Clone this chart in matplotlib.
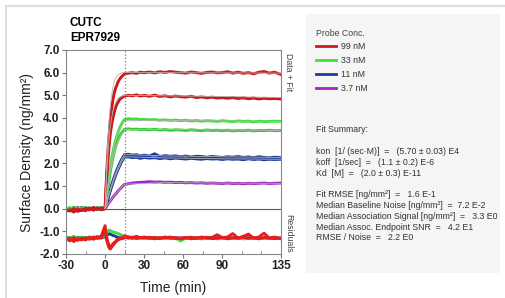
import matplotlib
matplotlib.use("Agg")
import matplotlib.pyplot as plt
from matplotlib.patches import Rectangle
from matplotlib.lines import Line2D
from matplotlib.ticker import MultipleLocator

plt.rcParams['font.family'] = ['Liberation Sans', 'DejaVu Sans']
plt.rcParams['axes.unicode_minus'] = False

# time axis (min): baseline, association, dissociation
t_base = [-30, -27, -24, -21, -18, -15, -12, -9, -6, -3, 0]
t_assoc = [1, 2, 3, 4, 5, 6, 7, 8, 9, 10, 11, 12, 13, 14, 15]
t_diss = [18, 21, 24, 27, 30, 34, 38, 42, 46, 50, 54, 58, 62, 66, 70, 74,
          78, 82, 86, 90, 94, 98, 102, 106, 110, 114, 118, 122, 126, 130, 135]
t = t_base + t_assoc + t_diss

red1 = ([-0.12, -0.05, -0.15, -0.02, -0.08, 0.02, -0.06, 0.05, -0.03, 0.04, 0.0]
        + [1.3, 2.4, 3.2, 3.9, 4.4, 4.8, 5.1, 5.3, 5.45, 5.6, 5.7, 5.78, 5.84, 5.9, 5.95]
        + [5.98, 6.0, 5.97, 6.02, 6.0, 6.03, 5.99, 6.04, 6.01, 6.05, 6.02, 6.0, 5.98, 6.03, 6.0, 5.97,
           6.01, 6.03, 5.99, 6.0, 6.04, 5.98, 6.02, 5.97, 6.0, 5.95, 6.02, 6.05, 5.98, 6.02, 5.92])
red2 = ([-0.05, -0.1, 0.0, -0.12, -0.04, -0.09, 0.03, -0.07, 0.02, -0.05, 0.0]
        + [1.1, 2.0, 2.7, 3.3, 3.7, 4.0, 4.25, 4.45, 4.6, 4.7, 4.8, 4.86, 4.9, 4.94, 4.97]
        + [5.0, 4.98, 5.02, 4.97, 5.0, 4.96, 5.01, 4.95, 4.98, 4.93, 4.97, 4.94, 4.92, 4.96, 4.9, 4.93,
           4.89, 4.92, 4.88, 4.9, 4.87, 4.9, 4.86, 4.89, 4.85, 4.88, 4.84, 4.87, 4.85, 4.86, 4.84])
green1 = ([-0.02, 0.05, -0.08, 0.02, -0.03, 0.06, -0.01, 0.04, -0.05, 0.03, 0.0]
          + [0.5, 1.0, 1.45, 1.85, 2.2, 2.5, 2.77, 3.0, 3.2, 3.38, 3.53, 3.66, 3.77, 3.86, 3.93]
          + [3.97, 3.95, 3.96, 3.93, 3.94, 3.92, 3.93, 3.9, 3.92, 3.89, 3.91, 3.88, 3.9, 3.87, 3.89, 3.86,
             3.88, 3.87, 3.85, 3.88, 3.86, 3.84, 3.87, 3.85, 3.86, 3.83, 3.86, 3.84, 3.85, 3.86, 3.85])
green2 = ([0.03, -0.04, 0.06, -0.02, 0.04, -0.06, 0.02, -0.03, 0.05, -0.01, 0.0]
          + [0.42, 0.85, 1.25, 1.62, 1.95, 2.25, 2.5, 2.72, 2.9, 3.05, 3.18, 3.28, 3.37, 3.44, 3.5]
          + [3.52, 3.5, 3.51, 3.49, 3.5, 3.48, 3.5, 3.47, 3.49, 3.46, 3.48, 3.47, 3.45, 3.48, 3.46, 3.44,
             3.47, 3.45, 3.46, 3.44, 3.46, 3.43, 3.45, 3.44, 3.46, 3.43, 3.45, 3.44, 3.46, 3.44, 3.45])
blue1 = ([-0.06, 0.02, -0.04, 0.05, -0.07, 0.01, -0.03, 0.04, -0.02, 0.03, 0.0]
         + [0.22, 0.44, 0.65, 0.85, 1.04, 1.22, 1.39, 1.55, 1.7, 1.84, 1.97, 2.09, 2.2, 2.3, 2.38]
         + [2.4, 2.36, 2.38, 2.33, 2.36, 2.32, 2.42, 2.3, 2.34, 2.31, 2.33, 2.29, 2.32, 2.28, 2.31, 2.3,
            2.27, 2.3, 2.28, 2.26, 2.29, 2.27, 2.3, 2.26, 2.28, 2.25, 2.29, 2.26, 2.24, 2.27, 2.25])
blue2 = ([0.02, -0.05, 0.03, -0.03, 0.05, -0.04, 0.02, -0.02, 0.04, -0.03, 0.0]
         + [0.2, 0.4, 0.6, 0.79, 0.97, 1.14, 1.3, 1.46, 1.6, 1.74, 1.87, 1.99, 2.1, 2.2, 2.28]
         + [2.28, 2.25, 2.27, 2.22, 2.26, 2.23, 2.25, 2.21, 2.24, 2.2, 2.23, 2.21, 2.19, 2.22, 2.2, 2.18,
            2.21, 2.19, 2.2, 2.17, 2.2, 2.18, 2.19, 2.16, 2.2, 2.17, 2.19, 2.16, 2.18, 2.17, 2.18])
purple = ([0.01, -0.03, 0.02, -0.02, 0.03, -0.01, 0.02, -0.02, 0.01, -0.01, 0.0]
          + [0.09, 0.18, 0.26, 0.34, 0.42, 0.5, 0.57, 0.64, 0.71, 0.78, 0.84, 0.9, 0.96, 1.02, 1.07]
          + [1.1, 1.13, 1.15, 1.16, 1.17, 1.19, 1.17, 1.18, 1.16, 1.17, 1.15, 1.16, 1.14, 1.15, 1.13, 1.14,
             1.12, 1.13, 1.12, 1.11, 1.13, 1.11, 1.12, 1.1, 1.12, 1.11, 1.12, 1.13, 1.11, 1.12, 1.13])

# fitted curves
t_fit = [0, 1, 2, 3, 4, 5, 6, 7, 8, 9, 10, 11, 12, 13, 14, 15, 45, 90, 135]
fit_red1 = [0, 1.6, 2.9, 3.8, 4.5, 5.0, 5.35, 5.6, 5.75, 5.85, 5.91, 5.95, 5.97, 5.99, 6.0, 6.01, 6.0, 5.99, 5.98]
fit_red2 = [0, 1.25, 2.25, 3.0, 3.6, 4.0, 4.3, 4.52, 4.67, 4.78, 4.86, 4.91, 4.95, 4.97, 4.99, 5.0, 4.98, 4.95, 4.9]
fit_green1 = [0, 0.52, 1.0, 1.45, 1.85, 2.2, 2.5, 2.76, 2.99, 3.19, 3.36, 3.5, 3.62, 3.72, 3.8, 3.87, 3.9, 3.87, 3.85]
fit_green2 = [0, 0.45, 0.87, 1.26, 1.61, 1.92, 2.2, 2.44, 2.65, 2.84, 3.0, 3.13, 3.25, 3.35, 3.43, 3.5, 3.49, 3.47, 3.45]
fit_blue1 = [0, 0.22, 0.44, 0.65, 0.85, 1.04, 1.22, 1.39, 1.55, 1.7, 1.84, 1.97, 2.09, 2.2, 2.3, 2.39, 2.33, 2.29, 2.26]
fit_blue2 = [0, 0.2, 0.4, 0.6, 0.79, 0.97, 1.14, 1.3, 1.46, 1.6, 1.74, 1.87, 1.99, 2.1, 2.2, 2.29, 2.24, 2.2, 2.18]
fit_purple = [0, 0.09, 0.18, 0.26, 0.34, 0.42, 0.5, 0.57, 0.64, 0.71, 0.78, 0.84, 0.9, 0.96, 1.02, 1.08, 1.15, 1.13, 1.12]

# residuals (drawn in the lower band)
res_green = ([-1.25, -1.3, -1.22, -1.32, -1.25, -1.3, -1.24, -1.28, -1.22, -1.26, -1.2]
             + [-1.1, -1.0, -0.95, -0.97, -1.0, -1.02, -1.05, -1.05, -1.08, -1.1, -1.12, -1.15, -1.18, -1.2, -1.22]
             + [-1.25, -1.28, -1.25, -1.3, -1.27, -1.3, -1.28, -1.31, -1.29, -1.32, -1.3, -1.42, -1.3, -1.32, -1.3, -1.33,
                -1.31, -1.3, -1.33, -1.31, -1.3, -1.32, -1.3, -1.33, -1.31, -1.3, -1.32, -1.3, -1.31, -1.3, -1.32])
res_blue = ([-1.3, -1.28, -1.33, -1.27, -1.3, -1.29, -1.32, -1.27, -1.3, -1.28, -1.25]
            + [-1.2, -1.15, -1.1, -1.12, -1.15, -1.18, -1.2, -1.22, -1.25, -1.27, -1.28, -1.3, -1.3, -1.3, -1.28]
            + [-1.28, -1.3, -1.27, -1.3, -1.28, -1.31, -1.29, -1.3, -1.27, -1.3, -1.28, -1.31, -1.3, -1.28, -1.3, -1.29,
               -1.31, -1.28, -1.3, -1.3, -1.28, -1.31, -1.29, -1.3, -1.28, -1.3, -1.31, -1.29, -1.3, -1.28, -1.3])
res_red2 = ([-1.3, -1.42, -1.28, -1.4, -1.3, -1.38, -1.27, -1.35, -1.25, -1.3, -0.95]
            + [-1.35, -1.55, -1.72, -1.78, -1.7, -1.62, -1.55, -1.48, -1.42, -1.38, -1.35, -1.32, -1.33, -1.28, -1.25]
            + [-1.3, -1.25, -1.32, -1.27, -1.3, -1.26, -1.33, -1.28, -1.3, -1.25, -1.32, -1.29, -1.27, -1.33, -1.28, -1.3,
               -1.26, -1.32, -1.3, -1.27, -1.33, -1.28, -1.3, -1.26, -1.31, -1.28, -1.33, -1.27, -1.3, -1.32, -1.3])
res_red1 = ([-1.4, -1.3, -1.45, -1.32, -1.38, -1.28, -1.35, -1.25, -1.3, -1.22, -0.75]
            + [-1.2, -1.45, -1.6, -1.7, -1.65, -1.55, -1.5, -1.45, -1.38, -1.35, -1.3, -1.28, -1.3, -1.25, -1.2]
            + [-1.25, -1.3, -1.22, -1.28, -1.25, -1.3, -1.27, -1.32, -1.25, -1.3, -1.28, -1.33, -1.3, -1.26, -1.32, -1.25,
               -1.3, -1.27, -1.15, -1.28, -1.25, -1.1, -1.3, -1.22, -1.12, -1.3, -1.25, -1.08, -1.3, -1.25, -1.33])

conc_labels = ['99 nM', '33 nM', '11 nM', '3.7 nM']
conc_colors = ['#d01818', '#3ee03e', '#1f3a9e', '#a028c0']

summary_lines = [
    'Fit Summary:',
    '',
    'kon  [1/ (sec\u00b7M)]  =   (5.70 \u00b1 0.03) E4',
    'koff  [1/sec]  =   (1.1 \u00b1 0.2) E-6',
    'Kd  [M]  =   (2.0 \u00b1 0.3) E-11',
    '',
    'Fit RMSE [ng/mm\u00b2]  =   1.6 E-1',
    'Median Baseline Noise [ng/mm\u00b2]  =  7.2 E-2',
    'Median Association Signal [ng/mm\u00b2]  =   3.3 E0',
    'Median Assoc. Endpoint SNR  =   4.2 E1',
    'RMSE / Noise  =   2.2 E0',
]

W, H = 506, 298
fig = plt.figure(figsize=(W / 100, H / 100), dpi=100)

# outer frame and side panel
fig.patches.append(Rectangle((6 / W, -0.1), 1.2, 1 - 6 / H + 0.1, transform=fig.transFigure,
                             facecolor='none', edgecolor='#dedede', lw=1.5))
fig.patches.append(Rectangle((306 / W, 1 - 273 / H), 194 / W, 259 / H, transform=fig.transFigure,
                             facecolor='#f5f5f5', edgecolor='none'))

ax = fig.add_axes([66 / W, 1 - 254 / H, 215 / W, 204 / H])
ax.set_xlim(-30, 135)
ax.set_ylim(-2, 7)

lw = 2.1
ax.plot(t, res_blue, color=conc_colors[2], lw=lw)
ax.plot(t, res_green, color=conc_colors[1], lw=lw)
ax.plot(t, res_red2, color='#e01c1c', lw=lw)
ax.plot(t, res_red1, color='#e81e1e', lw=lw)

ax.plot(t, purple, color=conc_colors[3], lw=lw)
ax.plot(t, blue2, color=conc_colors[2], lw=lw)
ax.plot(t, blue1, color='#1c3796', lw=lw)
ax.plot(t, green2, color='#38c838', lw=lw)
ax.plot(t, green1, color=conc_colors[1], lw=lw)
ax.plot(t, red2, color='#c81a1a', lw=lw)
ax.plot(t, red1, color=conc_colors[0], lw=lw)
for f in [fit_red1, fit_red2, fit_green1, fit_green2, fit_blue1, fit_blue2, fit_purple]:
    ax.plot(t_fit, f, color='#b4b4b4', lw=0.6)

ax.axhline(0, color='#555555', lw=0.8)
ax.axvline(15, color='#808080', lw=0.9, ls=':')

ax.set_xticks([-30, 0, 30, 60, 90, 135])
ax.xaxis.set_minor_locator(MultipleLocator(15))
ax.set_yticks(range(-2, 8))
ax.set_yticklabels([f'{v:.1f}' for v in range(-2, 8)])
ax.tick_params(axis='both', which='major', labelsize=8.5, length=3, color='#777777', pad=1.5)
ax.tick_params(axis='x', which='minor', length=2, direction='in', color='#777777')
for lab in ax.get_xticklabels() + ax.get_yticklabels():
    lab.set_fontweight('bold')
    lab.set_color('#222222')
for s in ax.spines.values():
    s.set_color('#888888')
    s.set_linewidth(0.8)

ax.set_xlabel('Time (min)', fontsize=10, color='#222222', labelpad=6)
ax.set_ylabel('Surface Density (ng/mm\u00b2)', fontsize=10, color='#222222', labelpad=4)

fig.text(70 / W, 1 - 23 / H, 'CUTC', fontsize=8.5, fontweight='bold', va='center', ha='left')
fig.text(70 / W, 1 - 38 / H, 'EPR7929', fontsize=8.5, fontweight='bold', va='center', ha='left')

fig.text(289 / W, 1 - 72 / H, 'Data + Fit', rotation=-90, fontsize=6.3, color='#444444',
         va='center', ha='center')
fig.text(289 / W, 1 - 233 / H, 'Residuals', rotation=-90, fontsize=6.3, color='#444444',
         va='center', ha='center')

handles = [Line2D([], [], color=c, lw=2) for c in conc_colors]
leg = fig.legend(handles, conc_labels, title='Probe Conc.', loc='upper left',
                 bbox_to_anchor=(313 / W, 1 - 25 / H), frameon=False, fontsize=6.3,
                 title_fontsize=6.3, handlelength=2.2, handletextpad=0.6, labelspacing=0.55,
                 borderaxespad=0)
leg._legend_box.align = 'left'
leg.get_title().set_color('#444444')
for txt in leg.get_texts():
    txt.set_color('#333333')

y0 = 130
for i, line in enumerate(summary_lines):
    fig.text(316 / W, 1 - (y0 + i * 10.8) / H, line, fontsize=6.3, color='#333333',
             va='center', ha='left')

fig.savefig('out.png', dpi=100)
